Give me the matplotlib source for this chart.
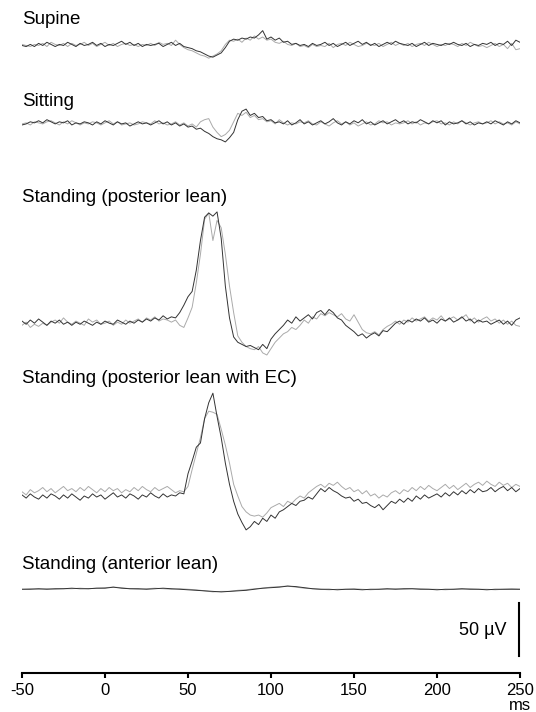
import numpy as np
import matplotlib.pyplot as plt

plt.rcParams['font.family'] = ['Liberation Sans', 'DejaVu Sans']
plt.rcParams['axes.unicode_minus'] = False

# Time base (ms): traces sampled every 2.5 ms, anterior lean every 5 ms
t = np.arange(-50, 250.1, 2.5)
t_ant = np.arange(-50, 250.1, 5)

# Traces in uV relative to each baseline
supine_black = [0, -1, 1, -1,  2, 0, 3, 1,  -1, 1, 0, 3,  1, -1, 2, 0,  1, 3, 0, 2,
                -1, 1, 0, 2,  4, 1, 3, 0,  2, -1, 1, 0,  1, 2, -1, 1,  3, 0, 2, -1,
                -2, -3, -5, -6,  -8, -10, -11, -9,  -7, -2, 4, 6,  5, 7, 6, 8,  7, 10, 14, 6,
                8, 5, 7, 3,  4, 1, 2, 0,  1, -1, 2, 0,  1, 3, 0, 2,  -1, 1, 3, 0,
                2, 4, 1, 3,  0, 2, -1, 1,  3, 1, 4, 2,  1, 0, 2, -1,  1, 3, 0, 2,
                1, 0, 2, 1,  3, 1, 0, 2,  -1, 1, 0, 2,  1, 3, 0, 2,  1, 4, 0, 5,  3]
supine_grey = [1, 0, -1, 1,  0, 2, -1, 3,  1, 0, 2, -1,  2, 0, 1, 3,  0, 2, -1, 1,
               3, 0, 2, -1,  1, 2, 0, 1,  -1, 1, 0, 2,  0, 3, 1, 2,  0, 5, 1, -2,
               -4, -5, -7, -9,  -10, -12, -10, -8,  -5, 1, 5, 4,  6, 3, 7, 5,  9, 6, 8, 5,
               6, 3, 2, 4,  1, 0, 2, -1,  0, -2, 1, -1,  0, -1, 2, -2,  1, 2, 0, 3,
               1, -1, 0, 2,  1, 0, 2, -1,  1, 3, 0, 2,  0, 2, -1, 1,  2, 0, 3, 1,
               -1, 1, 0, 2,  1, -1, 2, 0,  3, 1, -1, 0,  -2, 0, 2, -1,  1, -3, 2, -4,  -3]

sitting_black = [-1, 0, 2, 1,  3, 1, 4, 2,  0, 2, 1, 3,  -1, 1, 0, 2,  1, -1, 2, 0,
                 3, 1, -1, 2,  0, 1, -2, 0,  2, 0, 1, -1,  1, 3, 0, 2,  -1, 1, -2, 0,
                 -3, -2, -5, -4,  -7, -9, -12, -14,  -15, -17, -13, -8,  4, 12, 14, 8,  10, 6, 7, 3,
                 4, 1, 2, 0,  3, -1, 1, 4,  0, 2, -1, 1,  3, 0, 2, 5,  1, -1, 2, 0,
                 3, 1, 4, 0,  2, -1, 1, 3,  0, 2, 4, 1,  3, 0, 2, 1,  4, 2, 0, 3,
                 1, 3, -1, 2,  0, 1, 3, 0,  2, -1, 1, 0,  2, 0, 3, 1,  -1, 2, 0, 3,  1]
sitting_grey = [0, 1, -1, 2,  1, 0, 2, 3,  1, -1, 2, 0,  3, 1, -1, 1,  0, 2, 1, -1,
                1, 3, 0, 2,  -1, 0, 1, -1,  0, 2, 1, 0,  3, 0, 1, -1,  0, 2, -1, 1,
                -2, 0, -3, 2,  4, 5, -3, -8,  -12, -10, -6, 2,  10, 8, 11, 6,  8, 4, 5, 2,
                3, 0, 4, 1,  -1, 1, 0, 2,  1, 3, 0, -1,  2, 0, -2, 1,  3, 0, 2, -1,
                1, -2, 0, 2,  -1, 0, 3, 1,  2, -1, 1, 0,  1, 3, 0, 2,  -1, 1, 0, 2,
                3, 0, 1, -1,  2, 0, 3, 1,  -1, 1, 2, 0,  1, 3, 0, 2,  0, 1, -1, 2,  0]

posterior_black = [2, -1, 3, 0,  4, 1, -2, 2,  0, 3, -1, 1,  -2, 1, -1, 2,  0, -2, 1, -1,
                   2, 0, -1, 3,  1, -1, 2, 0,  3, 1, 4, 2,  5, 3, 7, 4,  6, 5, 10, 17,
                   25, 30, 50, 78,  100, 104, 101, 105,  80, 35, 5, -13,  -18, -20, -22, -21,  -23, -25, -20, -24,
                   -15, -10, -6, -2,  3, 0, 6, 2,  5, 8, 4, 10,  12, 8, 13, 10,  5, 3, -2, -5,
                   -8, -12, -10, -14,  -11, -9, -12, -7,  -8, -4, 0, 2,  -1, 3, 1, 4,  2, 5, 1, 3,
                   0, 4, 2, 5,  1, 3, 6, 2,  4, 0, 3, 1,  2, -1, 1, 3,  -1, 2, -2, 3,  5]
posterior_grey = [-2, 1, -4, -1,  -3, 0, -2, 1,  3, 0, 5, 1,  -1, 2, 0, -2,  4, 1, 3, -1,
                  0, 2, -2, 1,  -1, 3, 0, 2,  4, 1, 5, 3,  6, 2, 4, 3,  1, 3, -2, -4,
                  5, 15, 38, 65,  98, 104, 78, 97,  90, 65, 35, 10,  -12, -18, -22, -24,  -25, -22, -28, -30,
                  -24, -18, -14, -10,  -8, -4, -6, -2,  3, 0, 6, 4,  9, 7, 10, 8,  6, 9, 4, 2,
                  8, 1, -6, -9,  -10, -8, -11, -6,  -3, -1, 2, -1,  3, 1, 5, 2,  4, 6, 2, 5,
                  3, 7, 2, 4,  6, 3, 5, 8,  2, 5, 1, 4,  6, 2, 4, 0,  3, -1, 2, -2,  -3]

ec_black = [-2, -5, -1, -4,  -6, -2, -5, -1,  -3, -6, -2, -5,  -1, -4, -7, -3,  -5, -1, -4, -2,
            -6, -3, 0, -4,  -2, -5, -1, -3,  -6, -2, -4, 0,  -3, -5, -1, -4,  -2, -3, 0, -1,
            18, 30, 43, 47,  70, 85, 94, 72,  52, 28, 8, -8,  -20, -28, -35, -32,  -27, -30, -24, -27,
            -21, -24, -18, -16,  -13, -10, -12, -8,  -7, -4, -6, -1,  4, 1, 5, 2,  0, -3, -5, -4,
            -8, -6, -10, -9,  -12, -14, -11, -16,  -12, -8, -10, -6,  -9, -5, -8, -3,  -6, -2, -5, -3,
            -1, -4, 0, -3,  1, -2, 2, -1,  3, 0, 4, 1,  2, 5, 1, 4,  6, 2, 5, 1,  4]
ec_grey = [1, -2, 3, 0,  2, 5, 1, 4,  0, 3, 6, 2,  4, 1, 5, 2,  6, 3, 0, 4,
           1, 5, 2, 4,  0, 3, 1, 5,  2, 6, 3, 1,  5, 2, 4, 6,  3, 0, 2, 1,
           6, 22, 37, 52,  70, 77, 76, 74,  60, 45, 28, 8,  -3, -13, -18, -21,  -22, -21, -23, -19,
           -14, -12, -10, -13,  -8, -10, -6, -3,  -5, 0, 3, 6,  8, 5, 9, 7,  10, 6, 3, 5,
           1, 3, -1, 2,  -3, -1, -5, -2,  -4, 0, 2, -1,  3, 1, 5, 2,  6, 3, 7, 4,
           2, 5, 8, 4,  7, 3, 6, 9,  5, 8, 10, 7,  11, 8, 6, 10,  7, 9, 5, 8,  6]

anterior_black = [0, 0, 0.5, 0, 0.5, 0.5, 1, 0.5, 0.5, 1,
                  1, 2, 1, 0.5, 0.5, 0, 0.5, 1, 0.5, 0,
                  -0.5, -1, -1.5, -2, -2.5, -2, -1.5, -1, 0, 1,
                  1.5, 2, 3, 2.5, 1.5, 0.5, 0, 0, -0.5, 0,
                  0, -0.5, 0, 0, 0.5, 0, 0.5, 0.5, 0, 0,
                  -0.5, 0, 0, 0.5, 0, 0, -0.5, 0, 0, 0, 0]
anterior_grey = [0, 0.5, 0, 0.5, 0, 0.5, 0.5, 1, 0.5, 1,
                 1.5, 2, 1.5, 0.5, 0, 0.5, 1, 0.5, 0, 0.5,
                 0, -0.5, -1.5, -2.5, -2, -2, -1, -0.5, 0.5, 1,
                 2, 2.5, 3, 2, 1, 0.5, 0, -0.5, 0, 0,
                 0.5, 0, -0.5, 0, 0, 0.5, 0, 0.5, 0.5, 0,
                 0, -0.5, 0, 0, 0.5, 0, 0, -0.5, 0, 0.5, 0]

conditions = ['Supine', 'Sitting', 'Standing (posterior lean)',
              'Standing (posterior lean with EC)', 'Standing (anterior lean)']
traces = [(t, supine_black, supine_grey),
          (t, sitting_black, sitting_grey),
          (t, posterior_black, posterior_grey),
          (t, ec_black, ec_grey),
          (t_ant, anterior_black, anterior_grey)]

# stacking layout (uV from the time axis)
offsets = [592, 518, 330, 170, 79]
title_y = [612, 535, 444, 274, 98]

fig = plt.figure(figsize=(5.36, 7.12), dpi=100)
ax = fig.add_axes([22 / 536, 39 / 712, 498 / 536, 673 / 712])
ax.set_xlim(-50, 250)
ax.set_ylim(0, 673 / 1.06)

for name, (tt, blk, gry), off, ty in zip(conditions, traces, offsets, title_y):
    ax.plot(tt, np.array(gry) + off, color='#aaaaaa', lw=0.7)
    ax.plot(tt, np.array(blk) + off, color='#333333', lw=0.7)
    ax.text(-50, ty, name, fontsize=13.5, ha='left', va='baseline', clip_on=False)

# 50 uV scale bar
ax.plot([249.5, 249.5], [16, 66], color='black', lw=1.5, clip_on=False)
ax.text(242, 40, '50 µV', fontsize=13, ha='right', va='center')

# time axis
for s in ['top', 'left', 'right']:
    ax.spines[s].set_visible(False)
ax.spines['bottom'].set_linewidth(1.5)
ax.set_yticks([])
ax.set_xticks([-50, 0, 50, 100, 150, 200, 250])
ax.tick_params(axis='x', direction='out', length=3.5, width=1.5, pad=3.5, labelsize=12)
ax.text(250, -31, 'ms', fontsize=12, ha='center', va='center', clip_on=False)

plt.savefig('out.png', dpi=100)
